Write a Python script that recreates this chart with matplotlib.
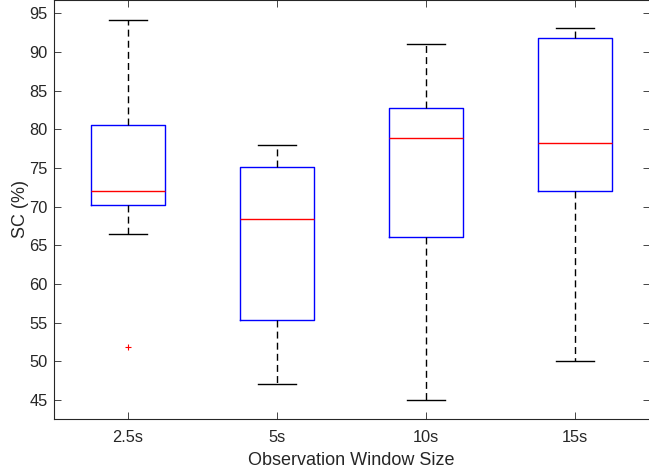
import numpy as np
import matplotlib.pyplot as plt

plt.rcParams['font.family'] = ['Liberation Sans', 'DejaVu Sans']

windows = ['2.5s', '5s', '10s', '15s']
q1 = [70.2, 55.3, 66.1, 72.0]
med = [72.0, 68.4, 78.9, 78.2]
q3 = [80.6, 75.1, 82.7, 91.8]
whislo = [66.5, 47.1, 45.0, 50.0]
whishi = [94.1, 77.9, 91.0, 93.1]
fliers = [[51.8], [], [], []]

stats = []
for i, name in enumerate(windows):
    stats.append({'label': name, 'q1': q1[i], 'med': med[i], 'q3': q3[i],
                  'whislo': whislo[i], 'whishi': whishi[i],
                  'fliers': fliers[i]})

fig = plt.figure(figsize=(6.49, 4.71), dpi=100)
ax = fig.add_axes([53.5 / 649, 52 / 471, 596 / 649, 419 / 471])

ax.bxp(stats, positions=np.arange(1, 5), widths=0.5, showfliers=True,
       boxprops=dict(color='#0000ff', linewidth=1.0),
       medianprops=dict(color='#ff0000', linewidth=1.0),
       whiskerprops=dict(color='black', linewidth=1.0, linestyle=(0, (5, 3))),
       capprops=dict(color='black', linewidth=1.0),
       capwidths=0.25,
       flierprops=dict(marker='+', markeredgecolor='#ff0000', markersize=4,
                       markeredgewidth=0.8, linestyle='none'))

ax.set_xlim(0.5, 4.5)
ax.set_ylim(42.55, 96.7)
ax.set_yticks(np.arange(45, 96, 5))
ax.set_xticks(np.arange(1, 5))
ax.set_xticklabels(windows)

axis_col = '#262626'
for s in ax.spines.values():
    s.set_color(axis_col)
    s.set_linewidth(0.8)
ax.tick_params(direction='in', length=5, width=0.6, color=axis_col,
               labelcolor=axis_col, labelsize=11.8, top=True, right=True)
ax.tick_params(axis='x', pad=8)
ax.tick_params(axis='y', pad=4)

ax.set_xlabel('Observation Window Size', fontsize=13, color=axis_col, labelpad=5)
ax.set_ylabel('SC (%)', fontsize=13, color=axis_col, labelpad=0.5)

fig.savefig('out.png', dpi=100)
